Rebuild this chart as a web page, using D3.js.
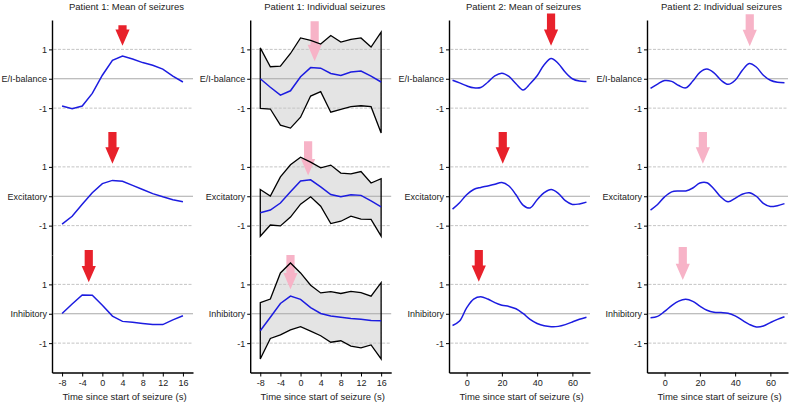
<!DOCTYPE html>
<html>
<head>
<meta charset="utf-8">
<script src="https://cdn.jsdelivr.net/npm/d3@7/dist/d3.min.js"></script>
<style>
  html, body { margin: 0; padding: 0; background: #fff; }
  svg { display: block; }
  text { font-family: "Liberation Sans", Arial, sans-serif; fill: #222; }
</style>
</head>
<body>
<svg id="chart" width="790" height="403"></svg>
<script>
// ---------------- DATA ----------------
const panelTitles = ["Patient 1: Mean of seizures", "Patient 1: Individual seizures",
                     "Patient 2: Mean of seizures", "Patient 2: Individual seizures"];
const rowNames = ["E/I-balance", "Excitatory", "Inhibitory"];
const yTickValues = [-1, 0, 1];
const p1TickValues = [-8, -4, 0, 4, 8, 12, 16];
const p2TickValues = [0, 20, 40, 60];
const xAxisTitle = "Time since start of seizure (s)";

// Patient 1 time samples (s)
const p1Time = [-8, -6, -4, -2, 0, 2, 4, 6, 8, 10, 12, 14, 16];
// Patient 1: mean of seizures
const p1MeanEI  = [-0.93, -1.02, -0.93, -0.50, 0.12, 0.63, 0.77, 0.67, 0.55, 0.46, 0.33, 0.09, -0.11];
const p1MeanExc = [-0.95, -0.68, -0.27, 0.12, 0.43, 0.54, 0.51, 0.37, 0.23, 0.09, -0.02, -0.12, -0.19];
const p1MeanInh = [0.01, 0.33, 0.64, 0.63, 0.29, -0.08, -0.26, -0.29, -0.33, -0.37, -0.37, -0.21, -0.07];
// Patient 1: individual seizures (mean, upper, lower)
const p1IndEI     = [0.00, -0.29, -0.56, -0.41, 0.07, 0.38, 0.36, 0.18, 0.11, 0.23, 0.26, 0.09, -0.11];
const p1IndEIHi   = [1.05, 0.41, 0.43, 0.86, 1.39, 1.31, 1.18, 1.47, 1.25, 1.34, 1.39, 1.08, 1.59];
const p1IndEILo   = [-1.01, -1.03, -1.58, -1.68, -1.31, -0.59, -0.44, -1.14, -1.04, -0.95, -0.92, -0.95, -1.85];
const p1IndExc    = [-0.56, -0.47, -0.23, 0.15, 0.52, 0.56, 0.32, 0.06, -0.02, 0.05, 0.03, -0.16, -0.36];
const p1IndExcHi  = [0.23, 0.01, 0.66, 1.07, 1.33, 1.16, 0.97, 1.06, 0.79, 0.76, 0.84, 0.45, 0.60];
const p1IndExcLo  = [-1.36, -0.98, -1.01, -0.71, -0.27, -0.02, -0.34, -0.93, -0.85, -0.68, -0.78, -0.79, -1.36];
const p1IndInh    = [-0.58, -0.12, 0.35, 0.60, 0.49, 0.21, 0.01, -0.08, -0.12, -0.16, -0.19, -0.23, -0.24];
const p1IndInhHi  = [0.38, 0.50, 1.39, 1.73, 1.39, 0.97, 0.71, 0.75, 0.69, 0.76, 0.72, 0.60, 1.06];
const p1IndInhLo  = [-1.54, -0.84, -0.72, -0.55, -0.44, -0.59, -0.75, -0.97, -0.92, -1.10, -1.16, -1.06, -1.54];

// Patient 2 time samples (s)
const p2Time = [-8, -4, 0, 4, 8, 12, 16, 20, 24, 28, 32, 36, 40, 44, 48, 52, 56, 60, 64, 68];
// Patient 2: mean of seizures
const p2MeanEI  = [-0.05, -0.14, -0.24, -0.31, -0.30, -0.12, 0.10, 0.19, 0.08, -0.17, -0.38, -0.17, 0.10, 0.48, 0.69, 0.52, 0.22, 0.00, -0.08, -0.09];
const p2MeanExc = [-0.44, -0.22, 0.05, 0.23, 0.30, 0.35, 0.41, 0.47, 0.35, 0.05, -0.30, -0.40, -0.12, 0.12, 0.23, 0.10, -0.15, -0.28, -0.26, -0.20];
const p2MeanInh = [-0.40, -0.25, 0.20, 0.50, 0.58, 0.50, 0.38, 0.29, 0.25, 0.17, 0.01, -0.19, -0.33, -0.41, -0.44, -0.43, -0.37, -0.28, -0.19, -0.12];
// Patient 2: individual seizures
const p2IndEI   = [-0.33, -0.18, -0.06, -0.09, -0.23, -0.31, -0.08, 0.22, 0.33, 0.20, -0.05, -0.19, -0.05, 0.28, 0.52, 0.40, 0.12, -0.05, -0.12, -0.14];
const p2IndExc  = [-0.47, -0.28, -0.02, 0.15, 0.18, 0.18, 0.28, 0.45, 0.46, 0.25, -0.03, -0.19, -0.07, 0.07, 0.12, 0.00, -0.24, -0.35, -0.32, -0.25];
const p2IndInh  = [-0.14, -0.09, 0.08, 0.28, 0.43, 0.49, 0.42, 0.26, 0.12, 0.05, 0.04, 0.02, -0.07, -0.22, -0.36, -0.45, -0.42, -0.30, -0.19, -0.10];

// Arrows marking peaks: time, tip value, tail value (per row)
const p1MeanArrowTime = [4, 2, -2.7];
const p1MeanArrowTip  = [1.12, 1.11, 1.07];
const p1MeanArrowTail = [1.82, 2.19, 2.17];
const p1IndArrowTime  = [2.8, 1.5, -2.0];
const p1IndArrowTip   = [0.60, 0.71, 0.83];
const p1IndArrowTail  = [1.96, 1.87, 2.00];
const p2MeanArrowTime = [47.9, 20.5, 6.9];
const p2MeanArrowTip  = [1.12, 1.11, 1.09];
const p2MeanArrowTail = [2.22, 2.19, 2.17];
const p2IndArrowTime  = [48.3, 21.7, 10.3];
const p2IndArrowTip   = [1.11, 1.11, 1.15];
const p2IndArrowTail  = [2.20, 2.19, 2.27];

// ---------------- LAYOUT ----------------
const colLeft = [52, 250.2, 449, 647];
const plotW = 141;
const plotTop = 20;
const rowH = 117.5;
const RED = "#e8212b", PINK = "#f7b3c7", BLUE = "#1c1ce0";

const panels = [
  { title: panelTitles[0], time: p1Time, domain: [-10, 18], ticks: p1TickValues,
    series: [p1MeanEI, p1MeanExc, p1MeanInh], smooth: false, color: RED,
    arrows: [p1MeanArrowTime, p1MeanArrowTip, p1MeanArrowTail] },
  { title: panelTitles[1], time: p1Time, domain: [-10, 18], ticks: p1TickValues,
    series: [p1IndEI, p1IndExc, p1IndInh],
    hi: [p1IndEIHi, p1IndExcHi, p1IndInhHi], lo: [p1IndEILo, p1IndExcLo, p1IndInhLo],
    smooth: false, color: PINK,
    arrows: [p1IndArrowTime, p1IndArrowTip, p1IndArrowTail] },
  { title: panelTitles[2], time: p2Time, domain: [-10, 70], ticks: p2TickValues,
    series: [p2MeanEI, p2MeanExc, p2MeanInh], smooth: true, color: RED,
    arrows: [p2MeanArrowTime, p2MeanArrowTip, p2MeanArrowTail] },
  { title: panelTitles[3], time: p2Time, domain: [-10, 70], ticks: p2TickValues,
    series: [p2IndEI, p2IndExc, p2IndInh], smooth: true, color: PINK,
    arrows: [p2IndArrowTime, p2IndArrowTip, p2IndArrowTail] }
];

const svg = d3.select("#chart");

panels.forEach((p, ci) => {
  const g = svg.append("g").attr("transform", `translate(${colLeft[ci]},0)`);
  const x = d3.scaleLinear().domain(p.domain).range([0, plotW]);

  // title
  g.append("text").attr("x", plotW / 2 + 4).attr("y", 10.4)
    .attr("text-anchor", "middle").style("font-size", "9.5px").text(p.title);

  for (let r = 0; r < 3; r++) {
    const top = plotTop + r * rowH;
    const y = d3.scaleLinear().domain([-2, 2]).range([top + rowH, top]);
    const rg = g.append("g");

    // band (fill)
    if (p.hi) {
      const area = d3.area().x((d, i) => x(p.time[i]))
        .y0((d, i) => y(p.lo[r][i])).y1((d, i) => y(p.hi[r][i]));
      rg.append("path").datum(p.time).attr("d", area)
        .attr("fill", "#e4e4e4").attr("stroke", "none");
    }

    // gridlines
    yTickValues.forEach(v => {
      rg.append("line").attr("x1", 1.5).attr("x2", plotW)
        .attr("y1", y(v)).attr("y2", y(v))
        .attr("stroke", v === 0 ? "#a9a9a9" : "#c4c4c4")
        .attr("stroke-width", 1)
        .attr("stroke-dasharray", v === 0 ? null : "3,1.5");
    });

    // arrow
    const at = p.arrows[0][r], tipV = p.arrows[1][r], tailV = p.arrows[2][r];
    const cx = x(at), yt = y(tipV), y0 = y(tailV);
    const hl = Math.min(16.3, yt - y0 - 4), hw = 7.1, sw = 4.1;
    rg.append("path")
      .attr("d", `M${cx - sw},${y0}L${cx + sw},${y0}L${cx + sw},${yt - hl}L${cx + hw},${yt - hl}L${cx},${yt}L${cx - hw},${yt - hl}L${cx - sw},${yt - hl}Z`)
      .attr("fill", p.color);

    // band outline
    if (p.hi) {
      const pts = p.time.map((t, i) => [x(t), y(p.hi[r][i])])
        .concat(p.time.map((t, i) => [x(t), y(p.lo[r][i])]).reverse());
      rg.append("path").attr("d", d3.line()(pts) + "Z")
        .attr("fill", "none").attr("stroke", "#000").attr("stroke-width", 1.3)
        .attr("stroke-linejoin", "miter");
    }

    // main line
    const line = d3.line().x((d, i) => x(p.time[i])).y(d => y(d))
      .curve(p.smooth ? d3.curveCatmullRom.alpha(0.5) : d3.curveLinear);
    rg.append("path").datum(p.series[r]).attr("d", line)
      .attr("fill", "none").attr("stroke", BLUE).attr("stroke-width", 1.5);

    // y axis
    const ya = d3.axisLeft(y).tickValues(yTickValues).tickSize(3).tickSizeOuter(0)
      .tickPadding(2)
      .tickFormat(v => v === 0 ? rowNames[r] : String(v));
    const yg = g.append("g").call(ya);
    yg.select(".domain").attr("stroke", "#000").attr("stroke-width", 1.4);
    yg.selectAll(".tick line").attr("stroke", "#000");
    yg.selectAll(".tick text").style("font-size", "9px").attr("fill", "#222")
      .style("font-family", "'Liberation Sans', Arial, sans-serif");

    if (r === 2) {
      const xa = d3.axisBottom(x).tickValues(p.ticks).tickSize(4).tickSizeOuter(0)
        .tickPadding(3).tickFormat(v => String(v));
      const xg = g.append("g").attr("transform", `translate(0,${top + rowH})`).call(xa);
      xg.select(".domain").attr("stroke", "#000").attr("stroke-width", 1.4);
      xg.selectAll(".tick line").attr("stroke", "#000");
      xg.selectAll(".tick text").style("font-size", "9px").attr("fill", "#222")
        .style("font-family", "'Liberation Sans', Arial, sans-serif");
      g.append("text").attr("x", plotW / 2 + 2).attr("y", 399.5)
        .attr("text-anchor", "middle").style("font-size", "9.5px").text(xAxisTitle);
    }
  }
});
</script>
</body>
</html>
